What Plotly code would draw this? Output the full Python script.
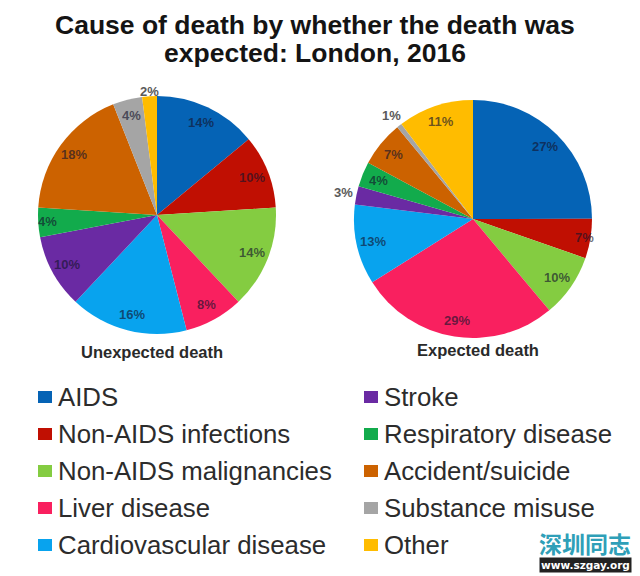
import math
import plotly.graph_objects as go

W, H = 640, 576
# the browser page keeps an 8px body margin, so the figure starts at (8, 8)
PAGE = 8
FIG_W, FIG_H = W - PAGE, H - PAGE
R = 119

causes = ['AIDS', 'Non-AIDS infections', 'Non-AIDS malignancies', 'Liver disease',
          'Cardiovascular disease', 'Stroke', 'Respiratory disease', 'Accident/suicide',
          'Substance misuse', 'Other']
colors = ['#0563b5', '#c00f02', '#84cc41', '#f9205f', '#08a3ee',
          '#6a2aa3', '#12ab4c', '#cc6200', '#a5a5a5', '#ffbc00']

# printed labels
unexpected_pct = [14, 10, 14, 8, 16, 10, 4, 18, 4, 2]
expected_pct = [27, 7, 10, 29, 13, 3, 4, 7, 1, 11]
expected_share = [25.0, 5.4, 8.6, 27.2, 10.9, 2.5, 3.4, 6.2, 0.7, 10.3]

annotations = []
shapes = []


def px(x):
    return (x - PAGE) / FIG_W


def py(y):
    return 1 - (y - PAGE) / FIG_H


def add_text(text, x, y, size, color='#333333', bold=False, anchor='center', family='Liberation Sans', **kw):
    annotations.append(dict(
        text=f'<b>{text}</b>' if bold else text,
        x=px(x), y=py(y), xref='paper', yref='paper',
        xanchor=anchor, yanchor='middle', showarrow=False,
        font=dict(family=family, size=size, color=color), **kw))


def make_pie(values, pct, cx, cy, radial, name):
    # labels sit near the rim, placed from each slice's middle angle
    total = sum(values)
    running = 0
    for cause, value, p in zip(causes, values, pct):
        mid = (running + value / 2) / total * 2 * math.pi
        running += value
        k = radial.get(cause, 0.86)
        color = '#5a5a5a' if k > 1 else 'rgba(20,20,45,0.65)'
        add_text(f'{p}%', cx + R * k * math.sin(mid), cy - R * k * math.cos(mid), 13, color, True)
    return go.Pie(
        labels=causes,
        values=values,
        name=name,
        textinfo='none',
        marker=dict(colors=colors, line=dict(width=0)),
        sort=False,
        direction='clockwise',
        rotation=0,
        showlegend=False,
        domain=dict(x=[px(cx - R), px(cx + R)], y=[py(cy + R), py(cy - R)]),
    )


fig = go.Figure(data=[
    make_pie(unexpected_pct, unexpected_pct, 157, 215,
             {'Other': 1.04, 'Respiratory disease': 0.92}, 'Unexpected death'),
    make_pie(expected_share, expected_pct, 473, 219,
             {'Stroke': 1.11, 'Substance misuse': 1.11, 'Non-AIDS infections': 0.95}, 'Expected death'),
])

add_text('Cause of death by whether the death was', 315, 25, 26.5, '#141414', True)
add_text('expected: London, 2016', 315, 53, 26.5, '#141414', True)
add_text('Unexpected death', 152, 352, 16.5, '#2a2a2a', True)
add_text('Expected death', 478, 350, 16.5, '#2a2a2a', True)

# legend runs down two columns of five rows
for i, (cause, color) in enumerate(zip(causes, colors)):
    col_x = 38 if i < 5 else 364
    y = 397 + 37 * (i % 5)
    shapes.append(dict(type='rect', xref='paper', yref='paper', line_width=0, fillcolor=color,
                       x0=px(col_x), x1=px(col_x + 14), y0=py(y + 6), y1=py(y - 6)))
    add_text(cause, col_x + 18, y, 25.8, '#2c2c2c', anchor='left')

# watermark
add_text('深圳同志', 585, 543, 23, '#2f9fb8', True, family='Noto Sans CJK SC')
add_text('www.szgay.org', 585, 565, 10.5, '#ffffff', True, family='DejaVu Sans', bgcolor='#222222', borderpad=1)

fig.update_layout(
    width=FIG_W, height=FIG_H,
    margin=dict(l=0, r=0, t=0, b=0),
    paper_bgcolor='white',
    annotations=annotations,
    shapes=shapes,
)

fig.write_html('out.html')
